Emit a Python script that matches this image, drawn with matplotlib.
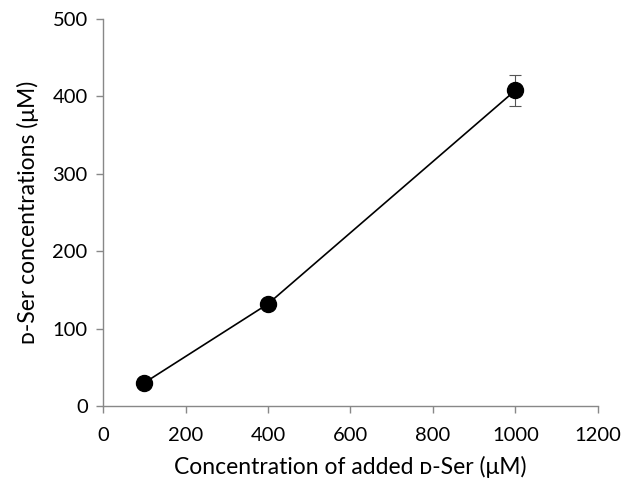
import matplotlib
matplotlib.use("Agg")
import matplotlib.pyplot as plt

added = [100, 400, 1000]
measured = [30, 132, 408]
errors = [2, 3, 20]
xticks = [0, 200, 400, 600, 800, 1000, 1200]
yticks = [0, 100, 200, 300, 400, 500]

plt.rcParams['font.family'] = ['Lato', 'DejaVu Sans']

fig = plt.figure(figsize=(6.22, 4.94), dpi=100)
ax = fig.add_axes([0.1656, 0.178, 0.7958, 0.7835])

ax.errorbar(added, measured, yerr=errors, fmt='-o', color='black', lw=1.2,
            markersize=11.5, ecolor='#555555', elinewidth=0.8, capsize=4, capthick=0.8)

ax.set_xlim(0, 1200)
ax.set_ylim(0, 500)
ax.set_xticks(xticks)
ax.set_yticks(yticks)
for s in ['top', 'right']:
    ax.spines[s].set_visible(False)
for s in ['left', 'bottom']:
    ax.spines[s].set_color('#888888')
    ax.spines[s].set_linewidth(1.0)
ax.tick_params(colors='#888888', labelcolor='black', labelsize=14.5, length=5, width=1.0)
ax.tick_params(axis='x', pad=10)
ax.tick_params(axis='y', pad=6)

ax.set_xlabel('Concentration of added \u1d05-Ser (\u03bcM)', fontsize=16.5, labelpad=9)
ax.set_ylabel('\u1d05-Ser concentrations (\u03bcM)', fontsize=16.5, labelpad=10)

fig.savefig('out.png', dpi=100)
